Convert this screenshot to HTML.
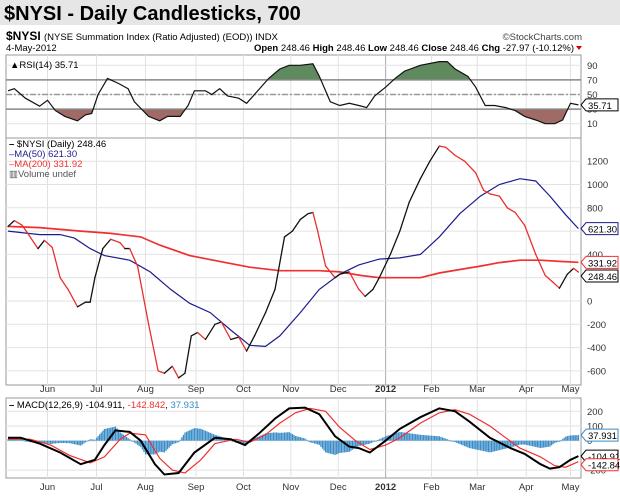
<!DOCTYPE html>
<html><head><meta charset="utf-8"><style>
body{margin:0;width:620px;height:499px;background:#fff;font-family:"Liberation Sans",Arial,sans-serif;overflow:hidden}
svg{position:absolute;left:0;top:0}
</style></head><body>
<svg width="620" height="499" font-family="Liberation Sans, Arial, sans-serif">
<rect x="0" y="0" width="620" height="25" fill="#e6e6e6"/>
<text x="4" y="20" font-size="20" font-weight="bold" fill="#000">$NYSI - Daily Candlesticks, 700</text>
<text x="6" y="40" font-size="12" font-weight="bold">$NYSI <tspan font-weight="normal" font-size="9.5">(NYSE Summation Index (Ratio Adjusted) (EOD)) INDX</tspan></text>
<text x="582" y="40" font-size="9.5" text-anchor="end" fill="#444">©StockCharts.com</text>
<text x="6" y="51" font-size="9.5">4-May-2012</text>
<text x="574" y="51" font-size="9.5" text-anchor="end"><tspan font-weight="bold">Open</tspan> 248.46 <tspan font-weight="bold">High</tspan> 248.46 <tspan font-weight="bold">Low</tspan> 248.46 <tspan font-weight="bold">Close</tspan> 248.46 <tspan font-weight="bold">Chg</tspan> -27.97 (-10.12%)</text>
<path d="M576 46 L582 46 L579 50Z" fill="#d00"/>
<g id="grid"></g>
<g id="rsi"></g>
<g id="main"></g>
<g id="macd"></g>
</svg>
<script>
// ---- data (day index since 16-May-2011) ----
const monthLabels=["Jun","Jul","Aug","Sep","Oct","Nov","Dec","2012","Feb","Mar","Apr","May"];
const monthDays=[25,56,87,119,149,179,209,239,268,297,328,356];
const rsiDays=[0,4,11,20,25,30,36,44,49,53,57,63,70,76,80,89,96,101,109,114,118,125,129,134,139,146,151,156,165,172,178,185,193,197,204,210,216,222,227,232,239,245,251,261,273,278,283,291,296,302,308,315,321,327,334,340,346,351,356,361];
const rsiVals=[55,58,45,34,42,28,20,14,22,24,50,72,65,58,40,20,14,20,20,35,55,55,50,58,48,45,38,50,72,85,90,90,92,75,40,35,38,35,32,48,60,72,82,90,95,95,85,75,60,35,35,32,28,20,15,10,10,15,38,35.71];
const nyDays=[0,4,9,19,23,28,33,38,44,49,52,55,60,65,71,74,77,82,89,95,99,104,108,112,116,120,125,131,135,141,146,151,156,163,169,175,180,185,190,193,196,201,207,210,216,222,226,231,235,242,248,254,261,267,273,277,283,289,296,301,305,311,316,321,327,334,340,345,349,354,358,361];
const nyVals=[640,690,650,450,520,460,200,100,-50,-10,-10,200,450,530,500,450,450,300,-200,-600,-620,-560,-660,-620,-300,-270,-330,-200,-180,-330,-310,-430,-300,-100,100,550,600,700,750,760,600,300,200,230,250,100,40,100,200,400,600,850,1050,1200,1330,1320,1250,1200,1100,950,920,900,800,760,650,400,220,160,110,230,280,248.46];
const ma50Days=[0,20,33,42,52,61,77,90,103,115,128,141,153,163,172,185,197,210,222,235,248,261,273,286,299,311,324,334,343,353,361];
const ma50Vals=[600,570,570,540,450,390,350,250,100,-20,-100,-250,-380,-390,-300,-100,100,230,310,360,370,400,550,750,900,1000,1050,1030,900,740,621.3];
const ma200Days=[0,20,46,65,84,96,115,134,153,172,185,197,210,223,235,248,261,273,286,299,311,324,337,349,361];
const ma200Vals=[640,630,600,580,550,480,390,340,290,260,260,260,250,220,200,200,200,240,270,300,330,350,350,340,331.92];
const macdDays=[0,8,20,33,46,55,61,68,77,84,93,99,108,118,131,141,150,159,169,178,188,197,207,216,222,229,239,248,261,273,283,292,305,318,327,337,343,349,356,361];
const macdVals=[20,20,-20,-80,-160,-130,-30,70,60,0,-160,-230,-220,-80,20,10,-30,50,150,220,225,180,30,-40,-50,-80,0,80,160,220,200,130,20,-50,-90,-160,-190,-180,-130,-104.911];
const sigDays=[0,14,27,39,52,61,71,77,87,96,104,112,122,131,144,153,163,172,182,191,201,210,220,229,239,248,261,273,283,292,305,315,324,337,346,353,361];
const sigVals=[10,10,-30,-100,-150,-110,10,50,40,-120,-200,-220,-130,-20,10,-10,40,120,190,220,200,90,0,-60,-30,20,120,190,210,180,100,20,-50,-110,-170,-180,-142.842];
const rsiTicks=[90,70,50,30,10];
const mainTicks=[1200,1000,800,600,400,200,0,-200,-400,-600];
const macdTicks=[200,100,0,-200];

// ---- scales ----
const L=6,R=581;
const X=d=>8+d*1.58;
const yR=v=>94.5-(v-50)*0.73;
const yM=v=>301-v*0.1165;
const yD=v=>440.7-v*0.147;
const NS="http://www.w3.org/2000/svg";
function mk(tag,attrs,parent){const e=document.createElementNS(NS,tag);for(const k in attrs)e.setAttribute(k,attrs[k]);document.getElementById(parent).appendChild(e);return e;}
function interp(ds,vs,d){if(d<=ds[0])return vs[0];for(let i=1;i<ds.length;i++){if(d<=ds[i]){const t=(d-ds[i-1])/(ds[i]-ds[i-1]);return vs[i-1]+t*(vs[i]-vs[i-1]);}}return vs[vs.length-1];}
function pts(ds,vs,y){return ds.map((d,i)=>X(d).toFixed(1)+","+y(vs[i]).toFixed(1)).join(" ");}

// panels & grids
const panels=[[55,138],[138,385],[398,478]];
panels.forEach((p,pi)=>{
  const r=mk("rect",{x:L,y:p[0],width:R-L,height:p[1]-p[0],fill:"none",stroke:"#999","stroke-width":1},"grid");
  
  
  monthDays.forEach((d,i)=>{
    const g=mk("line",{x1:X(d),x2:X(d),y1:p[0],y2:p[1],stroke:i==7?"#aaa":"#e2e2e2"},"grid");
    
    
  });
});
[392,490].forEach(yy=>{
  monthDays.forEach((d,i)=>{
    const t=mk("text",{x:X(d),y:yy,"font-size":9.5,"text-anchor":"middle","font-weight":i==7?"bold":"normal",fill:"#333"},"grid");
    t.textContent=monthLabels[i];
    
    
  });
});
function yTicks(ticks,y,g,lo,hi){ticks.forEach(v=>{const yy=y(v);
  const l=mk("line",{x1:L,x2:R,y1:yy,y2:yy,stroke:"#e2e2e2"},"grid");
  
  
  const t=mk("text",{x:587,y:yy+3.5,"font-size":9.5,fill:"#333"},g);t.textContent=v;
  
  });}
yTicks(rsiTicks,yR,"rsi");yTicks(mainTicks,yM,"main");yTicks(macdTicks,yD,"macd");

// RSI
const defs=mk("defs",{},"rsi");
const rp=pts(rsiDays,rsiVals,yR);
const poly=`${X(rsiDays[0])},${yR(50)} ${rp} ${X(rsiDays[rsiDays.length-1])},${yR(50)}`;
let c1=document.createElementNS(NS,"clipPath");c1.id="above";defs.appendChild(c1);
let r1=document.createElementNS(NS,"rect");r1.setAttribute("x",L);r1.setAttribute("y",55);r1.setAttribute("width",R-L);r1.setAttribute("height",yR(70)-55);c1.appendChild(r1);
let c2=document.createElementNS(NS,"clipPath");c2.id="below";defs.appendChild(c2);
let r2=document.createElementNS(NS,"rect");r2.setAttribute("x",L);r2.setAttribute("y",yR(30));r2.setAttribute("width",R-L);r2.setAttribute("height",138-yR(30));c2.appendChild(r2);
const fa=mk("polygon",{points:poly,fill:"#5e8a5e","clip-path":"url(#above)"},"rsi");


const fb=mk("polygon",{points:poly,fill:"#a06a66","clip-path":"url(#below)"},"rsi");


[[70,"#888",""],[30,"#888",""],[50,"#999","6,2,2,2"]].forEach(a=>{
  const l=mk("line",{x1:L,x2:R,y1:yR(a[0]),y2:yR(a[0]),stroke:a[1],"stroke-width":1.5,"stroke-dasharray":a[2]},"rsi");
  
  
});
const rl=mk("polyline",{points:rp,fill:"none",stroke:"#111","stroke-width":1.2},"rsi");



// main
const m200=mk("polyline",{points:pts(ma200Days,ma200Vals,yM),fill:"none",stroke:"#f03030","stroke-width":1.7},"main");


const m50=mk("polyline",{points:pts(ma50Days,ma50Vals,yM),fill:"none",stroke:"#1c1c8c","stroke-width":1.2},"main");


for(let i=1;i<nyDays.length;i++){
  const s=mk("line",{x1:X(nyDays[i-1]),y1:yM(nyVals[i-1]),x2:X(nyDays[i]),y2:yM(nyVals[i]),stroke:nyVals[i]>=nyVals[i-1]?"#111":"#e83030","stroke-width":1.3,"stroke-linecap":"round"},"main");
  
  
}

// MACD histogram
for(let d=0;d<=361;d+=1){
  const h=interp(macdDays,macdVals,d)-interp(sigDays,sigVals,d);
  const y0=yD(0),y1=yD(h);
  const b=mk("rect",{x:X(d)-0.6,y:Math.min(y0,y1),width:1.3,height:Math.max(1,Math.abs(y1-y0)),fill:"#3a8cc8"},"macd");
  
  
}
const sl=mk("polyline",{points:pts(sigDays,sigVals,yD),fill:"none",stroke:"#f03030","stroke-width":1.2},"macd");


const ml=mk("polyline",{points:pts(macdDays,macdVals,yD),fill:"none",stroke:"#000","stroke-width":2},"macd");



// value tags
function tag(g,y,txt,col,name){
  const p=mk("path",{d:`M581 ${y} L586 ${y-6} L618 ${y-6} L618 ${y+6} L586 ${y+6}Z`,fill:"#fff",stroke:col},g);
  
  
  const t=mk("text",{x:588,y:y+4,"font-size":9.5,fill:"#000"},g);t.textContent=txt;
  
  
}
tag("rsi",yR(35.71),"35.71","#000","rsi-value-tag");
tag("main",yM(621.3),"621.30","#1c1c8c","ma50-value-tag");
tag("main",yM(331.92),"331.92","#f03030","ma200-value-tag");
tag("main",yM(248.46)+4,"248.46","#000","nysi-value-tag");
tag("macd",yD(37.931),"37.931","#3a8cc8","hist-value-tag");
tag("macd",yD(-104.911),"-104.911","#000","macd-value-tag");
tag("macd",yD(-142.842)+3,"-142.842","#f03030","signal-value-tag");

// legends
function leg(g,x,y,html,name){const t=mk("text",{x:x,y:y,"font-size":9.5},g);t.innerHTML=html;
  
  }
leg("rsi",10,68,'▲RSI(14) 35.71',"rsi-legend");
leg("main",9,147,'<tspan font-weight="bold">–</tspan> $NYSI (Daily) 248.46',"nysi-legend");
leg("main",9,157,'<tspan fill="#1c1c8c">–MA(50) 621.30</tspan>',"ma50-legend");
leg("main",9,167,'<tspan fill="#f03030">–MA(200) 331.92</tspan>',"ma200-legend");
leg("main",9,177,'<tspan fill="#555">▥Volume undef</tspan>',"volume-legend");
leg("macd",9,408,'<tspan font-weight="bold">–</tspan> MACD(12,26,9) -104.911, <tspan fill="#f03030">-142.842</tspan>, <tspan fill="#3a8cc8">37.931</tspan>',"macd-legend");
</script>
</body></html>
